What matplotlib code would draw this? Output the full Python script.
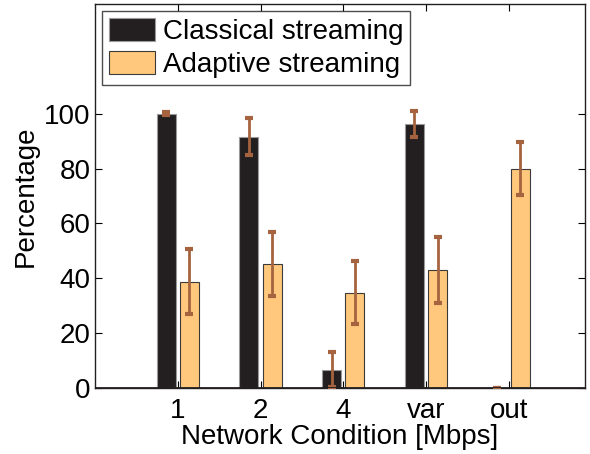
import matplotlib
matplotlib.use("Agg")
import matplotlib.pyplot as plt
import numpy as np

plt.rcParams['font.family'] = ['Liberation Sans', 'DejaVu Sans']

categories = ['1', '2', '4', 'var', 'out']
classical = [100, 91.7, 6.7, 96.2, 0]
classical_err = [0.5, 6.9, 6.5, 4.8, 0]
adaptive = [38.8, 45.3, 34.8, 43.1, 79.9]
adaptive_err = [11.8, 11.7, 11.6, 12.1, 9.7]

x = np.arange(1, len(categories) + 1)
w = 0.23
off = 0.14
err_color = '#a5643f'
fs = 20

fig = plt.figure(figsize=(5.9, 4.54), dpi=100)
ax = fig.add_axes([0.161, 0.1454, 0.8305, 0.8456])

ax.bar(x - off, classical, w, color='#231f20', edgecolor='#9a9a9a', linewidth=0.8,
       label='Classical streaming', zorder=2)
ax.bar(x + off, adaptive, w, color='#ffc87c', edgecolor='#3a3a3a', linewidth=0.8,
       label='Adaptive streaming', zorder=2)
ax.errorbar(x - off, classical, yerr=classical_err, fmt='none', ecolor=err_color,
            elinewidth=2, capsize=3, capthick=3, zorder=3)
ax.errorbar(x + off, adaptive, yerr=adaptive_err, fmt='none', ecolor=err_color,
            elinewidth=2, capsize=3, capthick=3, zorder=3)

ax.set_xlim(0, 5.92)
ax.set_ylim(0, 140)
ax.set_xticks(x)
ax.set_xticklabels(categories)
ax.set_yticks([0, 20, 40, 60, 80, 100])
ax.tick_params(direction='in', top=True, right=True, labelsize=fs, length=5, width=0.8)
ax.tick_params(axis='x', pad=7)
ax.tick_params(axis='y', pad=3)
ax.axhline(0, color='#231f20', linewidth=2, zorder=4)
for s in ax.spines.values():
    s.set_linewidth(1.0)
    s.set_color('#231f20')

ax.set_xlabel('Network Condition [Mbps]', fontsize=fs, labelpad=0)
ax.set_ylabel('Percentage', fontsize=fs, labelpad=4)

leg = ax.legend(loc='upper left', fontsize=fs, frameon=True, fancybox=False,
                edgecolor='#231f20', handlelength=1.65, handleheight=0.9,
                borderaxespad=0.25, labelspacing=0.2, borderpad=0.25, handletextpad=0.3)
leg.get_frame().set_linewidth(1.0)

fig.savefig('out.png', dpi=100)
